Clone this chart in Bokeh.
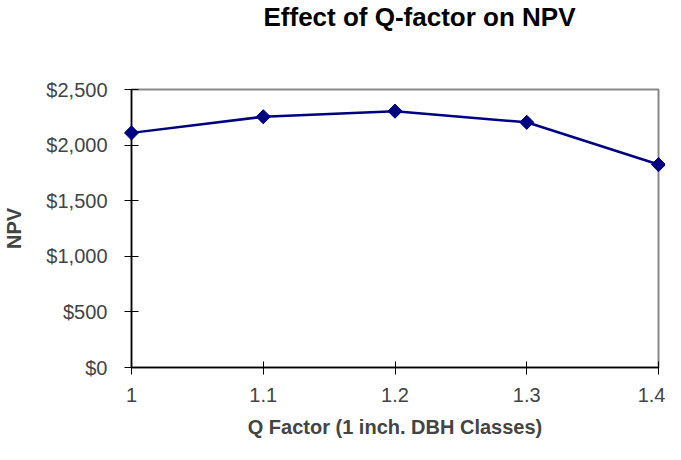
import numpy as np
from bokeh.plotting import figure
from bokeh.models import Range1d, FixedTicker, NumeralTickFormatter, Title
from bokeh.embed import file_html
from bokeh.resources import INLINE

# Data
q_factor = [1.0, 1.1, 1.2, 1.3, 1.4]
q_labels = ["1", "1.1", "1.2", "1.3", "1.4"]
npv = [2110, 2255, 2305, 2205, 1825]
y_ticks = [0, 500, 1000, 1500, 2000, 2500]
title_text = "Effect of Q-factor on NPV"

FONT = "Liberation Sans"
NAVY = "#000080"

p = figure(width=665, height=444, output_backend="svg", toolbar_location=None,
           x_range=Range1d(1.0, 1.4), y_range=Range1d(0, 2500),
           min_border_left=127, min_border_right=7, min_border_top=88, min_border_bottom=77)
p.title.visible = False

# blank spacer panel between the frame and the title
p.add_layout(Title(text=" ", text_font_size="1px", standoff=52), "above")

p.add_layout(Title(text=title_text, align="left", offset=132, vertical_align="top",
                   standoff=2, text_font=FONT, text_font_size="26px",
                   text_font_style="bold", text_color="black"), "above")

p.background_fill_color = "white"
p.border_fill_color = "white"
p.outline_line_color = "#888888"
p.outline_line_width = 2
p.xgrid.visible = False
p.ygrid.visible = False

# X axis
xa = p.below[0]
xa.ticker = FixedTicker(ticks=q_factor)
xa.major_label_overrides = {v: l for v, l in zip(q_factor, q_labels)}
xa.axis_label = "Q Factor (1 inch. DBH Classes)"
xa.axis_label_text_font = FONT
xa.axis_label_text_font_size = "20px"
xa.axis_label_text_font_style = "bold"
xa.axis_label_standoff = 11
xa.major_label_text_font = FONT
xa.major_label_text_font_size = "20px"
xa.major_label_standoff = 13
xa.axis_line_color = "black"
xa.axis_line_width = 1.5
xa.major_tick_line_color = "black"
xa.major_tick_in = 6
xa.major_tick_out = 7
xa.minor_tick_line_color = None

# Y axis
ya = p.left[0]
ya.ticker = FixedTicker(ticks=y_ticks)
ya.formatter = NumeralTickFormatter(format="$0,0")
ya.axis_label = "NPV"
ya.axis_label_text_font = FONT
ya.axis_label_text_font_size = "20px"
ya.axis_label_text_font_style = "bold"
ya.axis_label_standoff = 18
ya.major_label_text_font = FONT
ya.major_label_text_font_size = "20px"
ya.major_label_standoff = 17
ya.axis_line_color = "black"
ya.axis_line_width = 1.5
ya.major_tick_line_color = "black"
ya.major_tick_in = 7
ya.major_tick_out = 7
ya.minor_tick_line_color = None

line = p.line(q_factor, npv, line_color=NAVY, line_width=2.5)
line.level = "overlay"
pts = p.scatter(q_factor, npv, marker="square", angle=np.pi / 4, size=10,
                fill_color=NAVY, line_color=NAVY)
pts.level = "overlay"

open("out.html", "w").write(file_html(p, INLINE))
